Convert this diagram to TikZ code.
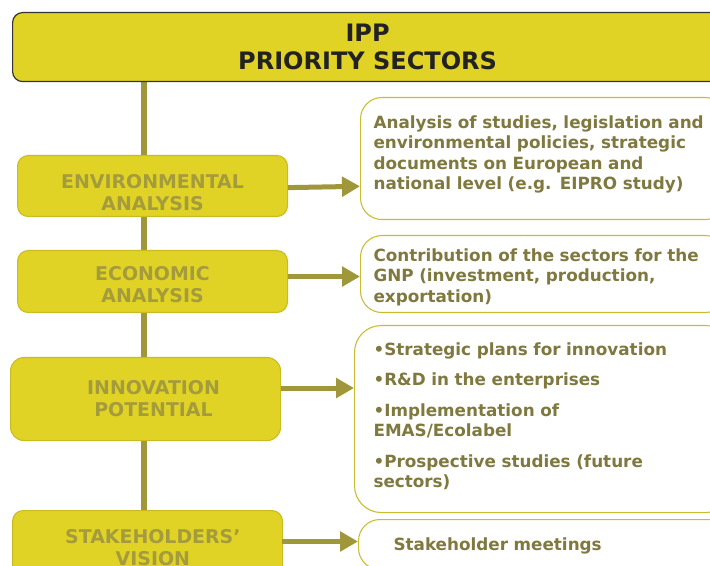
\documentclass[tikz,border=0pt]{standalone}
\usepackage{fontspec}
\setmainfont{DejaVu Sans}
\usetikzlibrary{arrows.meta}
\definecolor{yfill}{HTML}{E0D326}
\definecolor{yedge}{HTML}{C9BC22}
\definecolor{spinecol}{HTML}{A0973A}
\definecolor{ltext}{HTML}{A49B3D}
\definecolor{rtext}{HTML}{7F793F}
\definecolor{redge}{HTML}{C8BC30}
\definecolor{titleedge}{HTML}{333333}
\definecolor{titletext}{HTML}{222222}
\begin{document}
\begin{tikzpicture}[x=0.75pt,y=-0.75pt,
  titlebox/.style={draw=titleedge, line width=0.9pt, fill=yfill, rounded corners=7.5pt,
    anchor=north west, minimum width=532.5pt, minimum height=51.75pt, inner sep=0pt,
    align=center, text=titletext, font=\bfseries\fontsize{18pt}{21pt}\selectfont},
  lbox/.style={draw=yedge, line width=0.8pt, fill=yfill, rounded corners=8pt,
    anchor=north west, minimum width=202.5pt, inner sep=0pt, align=center,
    text=ltext, font=\bfseries\fontsize{14.2pt}{16.5pt}\selectfont},
  rbox/.style={draw=redge, line width=0.8pt, fill=white, rounded corners=16pt,
    anchor=north west, inner ysep=0pt, text width=255pt, align=left,
    text=rtext, font=\bfseries\fontsize{12.6pt}{15.4pt}\selectfont},
  conn/.style={draw=spinecol, line width=3.75pt, -{Triangle[length=13.5pt,width=14.5pt]}},
  spine/.style={draw=spinecol, line width=4.5pt}
]
\useasboundingbox (0,0) rectangle (710,566);
\clip (0,0) rectangle (710,566);
\fill[white] (0,0) rectangle (710,566);

% spine (drawn first, behind boxes)
\coordinate (top) at (143.7,81);
\coordinate (bottom) at (143.7,512);
\draw[spine] (top) -- (bottom);

\node[titlebox] (title) at (12,12) {IPP\\PRIORITY SECTORS};

\node[lbox, minimum height=45.75pt] (env) at (17,155) {\rule{0pt}{19.8pt}ENVIRONMENTAL\\ANALYSIS};
\node[lbox, minimum height=46.5pt] (econ) at (17,250) {\rule{0pt}{15.3pt}ECONOMIC\\ANALYSIS};
\node[lbox, minimum height=62.25pt, rounded corners=10pt] (innov) at (10,357) {\hspace*{12pt}INNOVATION\\\hspace*{12pt}POTENTIAL};
\node[lbox, minimum height=56.25pt] (stake) at (12,510) {\hspace*{8pt}STAKEHOLDERS’\\\hspace*{8pt}VISION};

\node[rbox, inner xsep=9.75pt, minimum height=91.5pt] (r1) at (360,97)
  {Analysis of studies, legislation and\\environmental policies, strategic\\documents on European and\\national level (e.g. EIPRO study)\rule[-9pt]{0pt}{1pt}};
\node[rbox, inner xsep=9.75pt, minimum height=57.75pt] (r2) at (360,235)
  {\rule{0pt}{14.5pt}Contribution of the sectors for the\\GNP (investment, production,\\exportation)};
\node[rbox, inner xsep=14.25pt, minimum height=140.25pt, rounded corners=20pt] (r3) at (354,325)
  {•Strategic plans for innovation\\[7.5pt]•R\&D in the enterprises\\[7.5pt]•Implementation of\\EMAS/Ecolabel\\[7.5pt]•Prospective studies (future\\sectors)\rule[-6pt]{0pt}{1pt}};
\node[rbox, inner xsep=26.25pt, minimum height=37.5pt] (r4) at (358,519)
  {\rule{0pt}{11pt}Stakeholder meetings};

\draw[conn] ([yshift=-1.2pt]env.east) -- ([yshift=-0.2pt]env.east -| r1.west);
\draw[conn] ([yshift=3.75pt]econ.east) -- ([yshift=3.75pt]econ.east -| r2.west);
\draw[conn] ([yshift=8.25pt]innov.east) -- ([yshift=8.25pt]innov.east -| r3.west);
\coordinate (a4) at (282,541.5);
\draw[conn] (a4) -- (a4 -| r4.west);
\end{tikzpicture}
\end{document}
